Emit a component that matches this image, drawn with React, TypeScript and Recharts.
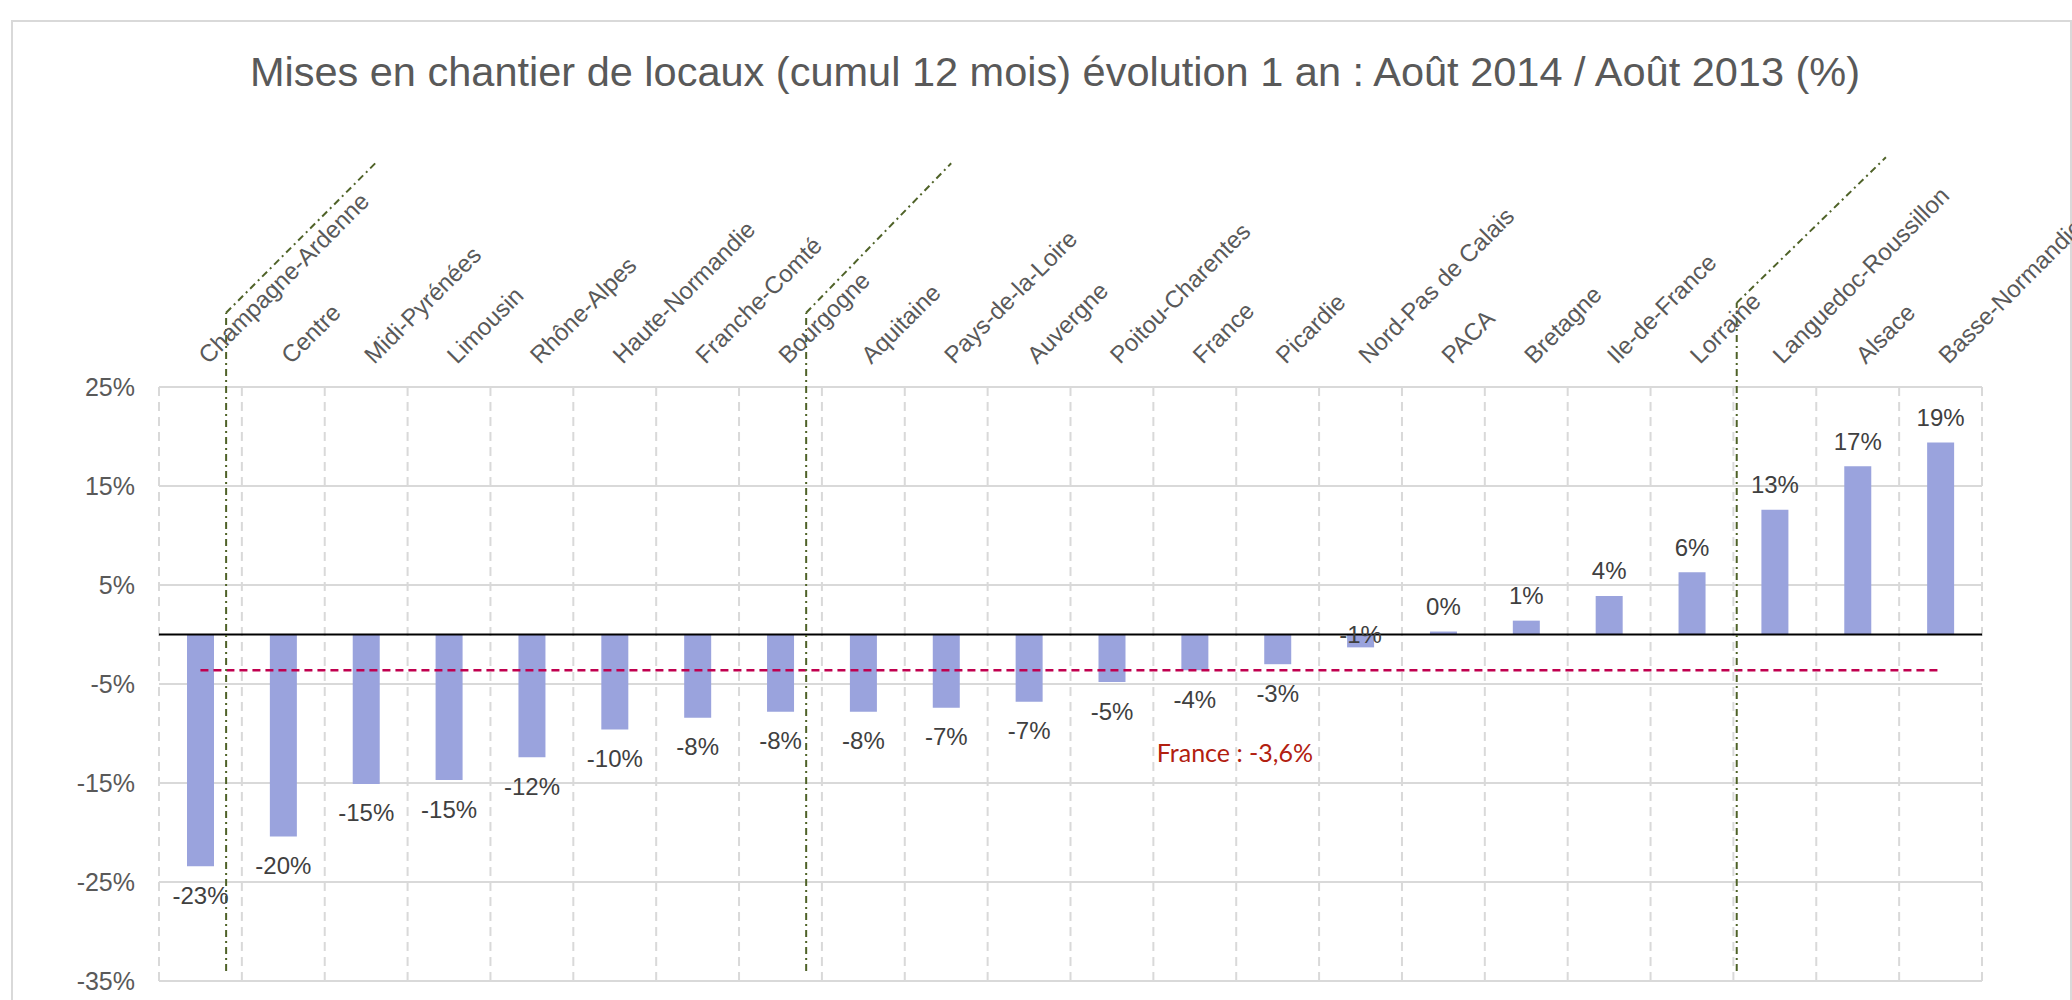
import React from 'react';
import {
  BarChart, Bar, XAxis, YAxis, CartesianGrid, ReferenceLine, ReferenceDot, LabelList
} from 'recharts';

const regions = [
  'Champagne-Ardenne', 'Centre', 'Midi-Pyrénées', 'Limousin', 'Rhône-Alpes', 'Haute-Normandie',
  'Franche-Comté', 'Bourgogne', 'Aquitaine', 'Pays-de-la-Loire', 'Auvergne', 'Poitou-Charentes',
  'France', 'Picardie', 'Nord-Pas de Calais', 'PACA', 'Bretagne', 'Ile-de-France', 'Lorraine',
  'Languedoc-Roussillon', 'Alsace', 'Basse-Normandie',
];
const evolution = [
  -23.4, -20.4, -15.1, -14.7, -12.4, -9.6, -8.4, -7.8, -7.8, -7.4, -6.8, -4.8,
  -3.6, -3.0, -1.3, 0.3, 1.4, 3.9, 6.3, 12.6, 17.0, 19.4,
];
const yTicks = [25, 15, 5, -5, -15, -25, -35];
const franceAvg = -3.6;
const franceLabel = 'France : -3,6%';
const title = 'Mises en chantier de locaux (cumul 12 mois) évolution 1 an : Août 2014 / Août 2013 (%)';

// slot: middle of each category on a 0..n numeric scale (used by the annotation axis)
const data = regions.map((name, i) => ({ name, value: evolution[i], slot: i + 0.5 }));

// green dash-dot brackets drawn by hand in the original (x in category units, y in %)
const brackets = [
  { x: 0.81, bottom: -34, corner: 32.5, endX: 2.61, endY: 47.6 },
  { x: 7.81, bottom: -34, corner: 32.5, endX: 9.56, endY: 47.6 },
  { x: 19.04, bottom: -34, corner: 33.5, endX: 20.84, endY: 48.2 },
];

const FONT = 'Liberation Sans, Arial, sans-serif';

const CategoryTick = (props: any) => {
  const { x, y, payload } = props;
  const ax = x + 8;
  return (
    <text x={ax} y={y} transform={`rotate(-45 ${ax} ${y})`} textAnchor="start"
      fill="#595959" fontSize={24} fontFamily={FONT}>
      {payload.value}
    </text>
  );
};

const ValueLabel = (props: any) => {
  const { x, y, width, height, value } = props;
  const top = Math.min(y, y + height);
  const bottom = Math.max(y, y + height);
  const cx = x + width / 2;
  let cy;
  if (value >= 0) cy = top - 25;
  else if (bottom - top < 20) cy = top;
  else cy = bottom + 29;
  return (
    <text x={cx} y={cy} textAnchor="middle" dominantBaseline="central"
      fill="#404040" fontSize={24} fontFamily={FONT}>
      {Math.round(value)}%
    </text>
  );
};

const FranceLabel = (props: any) => {
  const { viewBox } = props;
  return (
    <text x={viewBox.x - 38} y={viewBox.y + 92} fill="#B22010" fontSize={25}
      fontFamily="Lato, sans-serif">
      {franceLabel}
    </text>
  );
};

export default function App() {
  return (
    <div style={{ position: 'absolute', left: 0, top: 0, width: 2072, height: 1000, overflow: 'hidden', background: '#fff' }}>
      <div style={{ position: 'absolute', left: 11, top: 20, width: 2057, height: 1000, border: '2px solid #D9D9D9' }} />
      <svg style={{ position: 'absolute', left: 0, top: 0 }} width={2072} height={120}>
        <text x={1055} y={86} textAnchor="middle" fill="#595959" fontSize={41.5} fontFamily={FONT}>{title}</text>
      </svg>
      <div style={{ position: 'absolute', left: 0, top: 0 }}>
        <BarChart width={2072} height={1000} data={data}
          margin={{ top: 20, right: 90, bottom: 19, left: 0 }}>
          <CartesianGrid vertical={false} stroke="#D9D9D9" strokeWidth={2} />
          <CartesianGrid horizontal={false} stroke="#D9D9D9" strokeWidth={2} strokeDasharray="9 6"
            verticalCoordinatesGenerator={({ offset }: any) =>
              regions.concat(['']).map((_, i) => offset.left + (i * offset.width) / regions.length)} />
          <XAxis dataKey="name" orientation="top" height={367} interval={0}
            axisLine={false} tickLine={false} tickSize={0} tickMargin={22} tick={<CategoryTick />} />
          <XAxis xAxisId="n" dataKey="slot" type="number" domain={[0, regions.length]}
            allowDataOverflow padding={{ left: 0, right: 0 }} hide />
          <YAxis domain={[-35, 25]} ticks={yTicks} width={159} axisLine={false} tickLine={false}
            tickSize={0} tickMargin={24} tickFormatter={(v: number) => `${v}%`}
            tick={{ fill: '#595959', fontSize: 25, fontFamily: FONT }} interval={0} />
          <Bar dataKey="value" fill="#9AA3DD" barSize={27} isAnimationActive={false}>
            <LabelList dataKey="value" content={<ValueLabel />} />
          </Bar>
          <ReferenceLine y={0} stroke="#000" strokeWidth={2} />
          <ReferenceLine
            segment={[{ x: regions[0], y: franceAvg }, { x: regions[regions.length - 1], y: franceAvg }]}
            stroke="#C0004F" strokeWidth={2.5} strokeDasharray="8 5" />
          <ReferenceDot x="France" y={franceAvg} r={0} fill="none" stroke="none" label={<FranceLabel />} />
          {brackets.map((b, i) => (
            <ReferenceLine key={`v${i}`} xAxisId="n" ifOverflow="visible"
              segment={[{ x: b.x, y: b.bottom }, { x: b.x, y: b.corner }]}
              stroke="#4F6228" strokeWidth={2} strokeDasharray="7 4 2 4" />
          ))}
          {brackets.map((b, i) => (
            <ReferenceLine key={`d${i}`} xAxisId="n" ifOverflow="visible"
              segment={[{ x: b.x, y: b.corner }, { x: b.endX, y: b.endY }]}
              stroke="#4F6228" strokeWidth={2} strokeDasharray="7 4 2 4" />
          ))}
        </BarChart>
      </div>
    </div>
  );
}
